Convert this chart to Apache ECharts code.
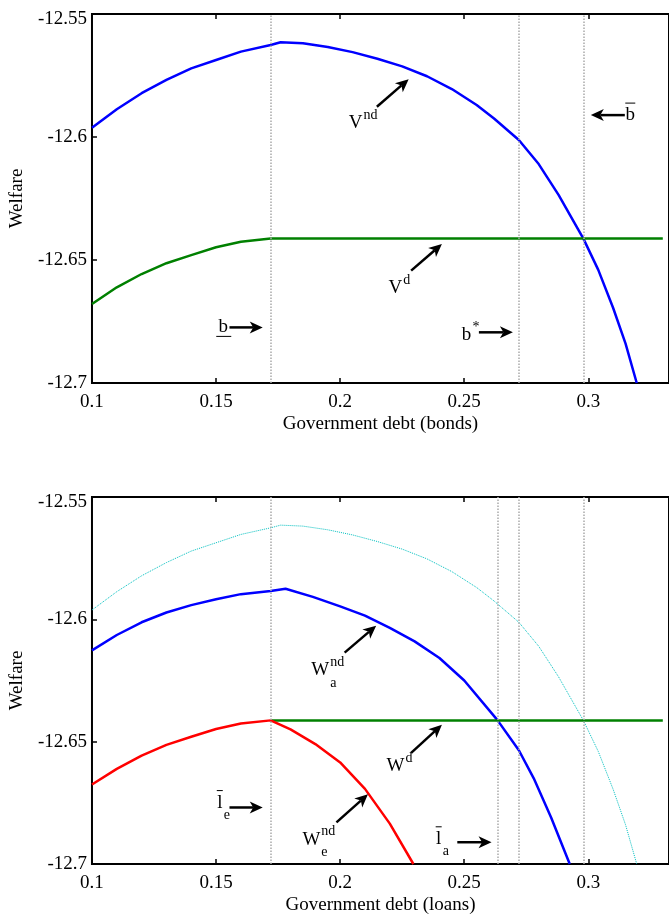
<!DOCTYPE html>
<html>
<head>
<meta charset="utf-8">
<script src="https://cdn.jsdelivr.net/npm/echarts@6/dist/echarts.min.js"></script>
<style>
  html, body { margin: 0; padding: 0; background: #fff; }
  #welfare { width: 669px; height: 916px; }
</style>
</head>
<body>
<div id="welfare"></div>
<script>
  // V^nd : welfare without default (bonds); also the dotted reference curve in the loans panel
  const vndX = [0.10, 0.11, 0.12, 0.13, 0.14, 0.15, 0.16, 0.172, 0.176, 0.185, 0.195, 0.205, 0.215, 0.225,
                0.235, 0.245, 0.255, 0.262, 0.272, 0.280, 0.288, 0.298, 0.304, 0.310, 0.315, 0.3195];
  const vndY = [-12.5962, -12.5887, -12.5822, -12.5768, -12.5721, -12.5687, -12.5653, -12.5626, -12.5615,
                -12.5619, -12.5634, -12.5655, -12.5682, -12.5713, -12.5753, -12.5805, -12.5870, -12.5925,
                -12.6012, -12.6110, -12.6235, -12.6413, -12.6540, -12.6695, -12.6840, -12.7000];
  // V^d : welfare with default (bonds)
  const vdX = [0.10, 0.11, 0.12, 0.13, 0.14, 0.15, 0.16, 0.172, 0.33];
  const vdY = [-12.6679, -12.6611, -12.6557, -12.6513, -12.6480, -12.6448, -12.6426, -12.6413, -12.6413];
  // W_a^nd (loans)
  const waX = [0.10, 0.11, 0.12, 0.13, 0.14, 0.15, 0.16, 0.172, 0.178, 0.189, 0.20, 0.21, 0.22, 0.23,
               0.24, 0.25, 0.2633, 0.272, 0.278, 0.285, 0.2925];
  const waY = [-12.6127, -12.6064, -12.6012, -12.5972, -12.5942, -12.5918, -12.5897, -12.5884, -12.5875,
               -12.5908, -12.5947, -12.5985, -12.6035, -12.6090, -12.6158, -12.6250, -12.6411, -12.6535,
               -12.6650, -12.6810, -12.7000];
  // W^d (loans)
  const wdX = [0.172, 0.33];
  const wdY = [-12.6413, -12.6413];
  // W_e^nd (loans)
  const weX = [0.10, 0.11, 0.12, 0.13, 0.14, 0.15, 0.16, 0.172, 0.18, 0.19, 0.20, 0.21, 0.22, 0.2295];
  const weY = [-12.6675, -12.6611, -12.6557, -12.6513, -12.6480, -12.6448, -12.6426, -12.6413, -12.6450,
               -12.6510, -12.6585, -12.6693, -12.6835, -12.7000];

  // debt thresholds (vertical dotted lines)
  const bondCuts = [0.172, 0.272, 0.298];
  const loanCuts = [0.172, 0.2633, 0.272, 0.298];

  const xTicks = [0.1, 0.15, 0.2, 0.25, 0.3];
  const yTicks = [-12.7, -12.65, -12.6, -12.55];

  // annotations, in data units
  const bondNotes = [
    { t: 'V', sup: 'nd', at: [0.2062, -12.5944] },
    { t: 'V', sup: 'd', at: [0.2222, -12.6615] },
    { t: 'b', bar: 'over', at: [0.3169, -12.5911] },
    { t: 'b', bar: 'under', at: [0.1529, -12.6774] },
    { t: 'b', sup: '*', at: [0.2509, -12.6805] }
  ];
  const bondArrows = [
    [[0.2148, -12.5877], [0.2276, -12.5765]],
    [[0.2286, -12.6543], [0.2410, -12.6435]],
    [[0.3147, -12.5911], [0.3010, -12.5911]],
    [[0.1554, -12.6774], [0.1688, -12.6774]],
    [[0.2559, -12.6794], [0.2696, -12.6794]]
  ];
  const loanNotes = [
    { t: 'W', sup: 'nd', sub: 'a', at: [0.1920, -12.6207] },
    { t: 'W', sup: 'd', at: [0.2223, -12.6599] },
    { t: 'W', sup: 'nd', sub: 'e', at: [0.1884, -12.6901] },
    { t: 'l', sub: 'e', bar: 'over', at: [0.1515, -12.6749] },
    { t: 'l', sub: 'a', bar: 'over', at: [0.2397, -12.6897] }
  ];
  const loanArrows = [
    [[0.2018, -12.6136], [0.2145, -12.6026]],
    [[0.2286, -12.6546], [0.2410, -12.6431]],
    [[0.1985, -12.6830], [0.2112, -12.6715]],
    [[0.1554, -12.6769], [0.1688, -12.6769]],
    [[0.2472, -12.6911], [0.2610, -12.6911]]
  ];

  const FONT = "'Liberation Serif', 'Times New Roman', serif";
  const zip = (xs, ys) => xs.map((x, i) => [x, ys[i]]);

  let chart = echarts.init(document.getElementById('welfare'));

  function xAxes(grid, name) {
    return [
      {
        gridIndex: grid, type: 'value', min: 0.1, max: 0.3325, position: 'bottom',
        axisLine: { show: false }, splitLine: { show: false },
        axisTick: { inside: true, length: 5, customValues: xTicks, lineStyle: { color: '#000', width: 1.5 } },
        axisLabel: { customValues: xTicks, margin: 10, color: '#000', fontFamily: FONT, fontSize: 19 },
        name: name, nameLocation: 'middle', nameGap: 32,
        nameTextStyle: { color: '#000', fontFamily: FONT, fontSize: 19 }
      },
      {
        gridIndex: grid, type: 'value', min: 0.1, max: 0.3325, position: 'top',
        axisLine: { show: false }, splitLine: { show: false },
        axisTick: { inside: true, length: 5, customValues: xTicks, lineStyle: { color: '#000', width: 1.5 } },
        axisLabel: { show: false }
      }
    ];
  }

  function yAxis(grid) {
    return {
      gridIndex: grid, type: 'value', min: -12.7, max: -12.55,
      axisLine: { show: false }, splitLine: { show: false },
      axisTick: { inside: true, length: 5, customValues: yTicks, lineStyle: { color: '#000', width: 1.5 } },
      axisLabel: {
        customValues: yTicks, margin: 5, color: '#000', fontFamily: FONT, fontSize: 19,
        formatter: function (v) {
          return v === yTicks[yTicks.length - 1] ? '{hi|' + v + '}' : '{n|' + v + '}';
        },
        rich: {
          hi: { padding: [11, 0, 0, 0], color: '#000', fontFamily: FONT, fontSize: 19 },
          n: { color: '#000', fontFamily: FONT, fontSize: 19 }
        }
      },
      name: 'Welfare', nameLocation: 'middle', nameGap: 58,
      nameTextStyle: { color: '#000', fontFamily: FONT, fontSize: 19 }
    };
  }

  function cutLines(values) {
    return {
      silent: true, symbol: 'none', label: { show: false }, animation: false, precision: 4,
      lineStyle: { color: '#a9a9a9', type: 'dotted', width: 1.5 },
      data: values.map(v => ({ xAxis: v }))
    };
  }

  function curve(name, xi, yi, data, color, width, type, marks) {
    return {
      name: name, type: 'line', xAxisIndex: xi, yAxisIndex: yi, data: data,
      showSymbol: false, symbol: 'none', smooth: false, animation: false, z: 3,
      lineStyle: { color: color, width: width, type: type || 'solid' },
      markLine: marks
    };
  }

  let option = {
    animation: false,
    grid: [
      { left: 91, top: 14, width: 580, height: 369, show: true, borderColor: '#000', borderWidth: 2 },
      { left: 91, top: 497, width: 580, height: 370, show: true, borderColor: '#000', borderWidth: 2 }
    ],
    xAxis: xAxes(0, 'Government debt (bonds)').concat(xAxes(1, 'Government debt (loans)')),
    yAxis: [yAxis(0), yAxis(1)],
    series: [
      curve('Vnd', 0, 0, zip(vndX, vndY), '#0000ff', 2.5, 'solid', cutLines(bondCuts)),
      curve('Vd', 0, 0, zip(vdX, vdY), '#008000', 2.5),
      curve('Vnd ref', 2, 1, zip(vndX, vndY), '#00bfbf', 1, 'dotted', cutLines(loanCuts)),
      curve('Wa nd', 2, 1, zip(waX, waY), '#0000ff', 2.5),
      curve('Wd', 2, 1, zip(wdX, wdY), '#008000', 2.5),
      curve('We nd', 2, 1, zip(weX, weY), '#ff0000', 2.5)
    ]
  };
  option && chart.setOption(option);

  // annotations: labels with sub/superscripts and arrows, placed through the axes
  const HALF = { W: 9, V: 7, b: 5, l: 3 };
  let els = [];

  function txt(s, x, y, size, align) {
    els.push({
      type: 'text', z: 10, x: x, y: y,
      style: { text: s, fill: '#000', font: size + 'px ' + FONT, align: align || 'center', verticalAlign: 'middle' }
    });
  }
  function seg(x1, y1, x2, y2, w) {
    els.push({ type: 'line', z: 10, shape: { x1: x1, y1: y1, x2: x2, y2: y2 }, style: { stroke: '#000', lineWidth: w } });
  }

  function drawNotes(notes, arrows, seriesIndex) {
    notes.forEach(n => {
      const p = chart.convertToPixel({ seriesIndex: seriesIndex }, n.at);
      const h = HALF[n.t];
      txt(n.t, p[0], p[1], 19);
      if (n.sup) txt(n.sup, p[0] + h + 1, p[1] - 8, 14, 'left');
      if (n.sub) txt(n.sub, p[0] + h + 1, p[1] + 13, 14, 'left');
      if (n.bar === 'over') seg(p[0] - h, p[1] - 12, p[0] + h, p[1] - 12, 1);
      if (n.bar === 'under') seg(p[0] - 7, p[1] + 9, p[0] + 8, p[1] + 9, 1);
    });
    arrows.forEach(a => {
      const p0 = chart.convertToPixel({ seriesIndex: seriesIndex }, a[0]);
      const p1 = chart.convertToPixel({ seriesIndex: seriesIndex }, a[1]);
      const dx = p1[0] - p0[0], dy = p1[1] - p0[1];
      const len = Math.sqrt(dx * dx + dy * dy);
      const ux = dx / len, uy = dy / len, nx = -uy, ny = ux;
      const bx = p1[0] - ux * 13, by = p1[1] - uy * 13;
      const kx = p1[0] - ux * 9.5, ky = p1[1] - uy * 9.5;
      seg(p0[0], p0[1], kx, ky, 2.5);
      els.push({
        type: 'polygon', z: 10,
        shape: { points: [[p1[0], p1[1]], [bx + nx * 6, by + ny * 6], [kx, ky], [bx - nx * 6, by - ny * 6]] },
        style: { fill: '#000' }
      });
    });
  }

  drawNotes(bondNotes, bondArrows, 0);
  drawNotes(loanNotes, loanArrows, 2);
  chart.setOption({ graphic: els });
</script>
</body>
</html>
